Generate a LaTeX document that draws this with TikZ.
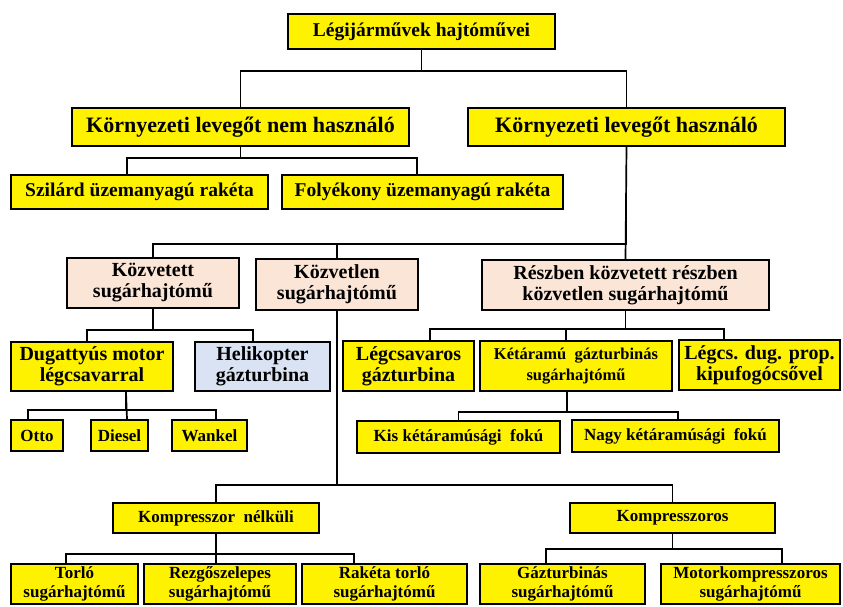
\documentclass[tikz,border=0pt]{standalone}
\usepackage{fontspec}
\setmainfont{Liberation Serif}
\usepackage{xcolor}
\usepackage{tikz}
\usetikzlibrary{shapes}
\definecolor{peach}{HTML}{FBE5D6}
\definecolor{paleblue}{HTML}{DAE3F3}
\newcommand{\fsz}[2]{\fontsize{#1}{#2}\selectfont\bfseries}
\tikzstyle{block} = [rectangle, draw, line width=2pt, fill=yellow, text centered, align=center, inner sep=0pt]
\tikzstyle{peachblock} = [block, fill=peach]
\tikzstyle{blueblock} = [block, fill=paleblue]
\tikzstyle{link} = [draw, line width=1.7pt]

\begin{document}
\begin{tikzpicture}[x=1pt, y=1pt]
        \useasboundingbox (0,0) rectangle (843,-606);
        % first levels
        \node [block, minimum width=267pt, minimum height=35pt, font=\fsz{19.5}{21}] at (421.5,-31.5) (root) {Légijárművek hajtóművei};
        \node [block, minimum width=337pt, minimum height=38pt, font=\fsz{22}{23}] at (240.5,-127) (nem) {Környezeti levegőt nem használó};
        \node [block, minimum width=317pt, minimum height=38pt, font=\fsz{22}{23}] at (626.5,-127) (haszn) {Környezeti levegőt használó};
        \node [block, minimum width=257pt, minimum height=34pt, font=\fsz{19.5}{21}] at (139.5,-192) (szil) {Szilárd üzemanyagú rakéta};
        \node [block, minimum width=281pt, minimum height=34pt, font=\fsz{19.5}{21}] at (422.5,-192) (foly) {Folyékony üzemanyagú rakéta};
        % jet engine kinds
        \node [peachblock, minimum width=172pt, minimum height=50pt, font=\fsz{20}{21}] at (153,-283) (kozvetett) {Közvetett\\sugárhajtómű};
        \node [peachblock, minimum width=162pt, minimum height=51pt, font=\fsz{20}{21}] at (337,-284.5) (kozvetlen) {Közvetlen\\sugárhajtómű};
        \node [peachblock, minimum width=287pt, minimum height=50pt, font=\fsz{20}{21}] at (625.5,-285) (reszben) {Részben közvetett részben\\közvetlen sugárhajtómű};
        % third row
        \node [block, minimum width=162pt, minimum height=49pt, font=\fsz{20}{21}] at (92,-366.5) (dug) {Dugattyús motor\\légcsavarral};
        \node [blueblock, minimum width=135pt, minimum height=49pt, font=\fsz{20}{21}] at (262.5,-366.5) (heli) {Helikopter\\gázturbina};
        \node [block, minimum width=131pt, minimum height=50pt, font=\fsz{20}{21}] at (408.5,-366) (legcs) {Légcsavaros\\gázturbina};
        \node [block, minimum width=192pt, minimum height=50pt, font=\fsz{16.5}{21}] at (576,-366) (ketar) {Kétáramú\ \ gázturbinás\\sugárhajtómű};
        \node [block, minimum width=161pt, minimum height=50pt, font=\fsz{20}{21}] at (759.5,-365) (legdug) {Légcs. dug. prop.\\kipufogócsővel};
        % piston engines, bypass ratio
        \node [block, minimum width=52pt, minimum height=31pt, font=\fsz{17}{19}] at (37,-435.5) (otto) {Otto};
        \node [block, minimum width=57pt, minimum height=31pt, font=\fsz{17}{19}] at (119.5,-435.5) (diesel) {Diesel};
        \node [block, minimum width=75pt, minimum height=31pt, font=\fsz{17}{19}] at (209.5,-435.5) (wankel) {Wankel};
        \node [block, minimum width=203pt, minimum height=32pt, font=\fsz{17}{19}] at (458.5,-437) (kis) {Kis kétáramúsági\ \ fokú};
        \node [block, minimum width=207pt, minimum height=32pt, font=\fsz{17}{19}] at (675.5,-436) (nagy) {Nagy kétáramúsági\ \ fokú};
        % compressor
        \node [block, minimum width=206pt, minimum height=30pt, font=\fsz{17}{19}] at (216,-518) (kompnelk) {Kompresszor\ \ nélküli};
        \node [block, minimum width=205pt, minimum height=30pt, font=\fsz{17}{19}] at (672.5,-518) (kompos) {Kompresszoros};
        % bottom row
        \node [block, minimum width=127pt, minimum height=40pt, font=\fsz{17}{19}] at (74.5,-584) (torlo) {Torló\\sugárhajtómű};
        \node [block, minimum width=152pt, minimum height=40pt, font=\fsz{17}{19}] at (220,-584) (rezgo) {Rezgőszelepes\\sugárhajtómű};
        \node [block, minimum width=165pt, minimum height=40pt, font=\fsz{17}{19}] at (384.5,-584) (raketa) {Rakéta torló\\sugárhajtómű};
        \node [block, minimum width=165pt, minimum height=40pt, font=\fsz{17}{19}] at (562.5,-584) (gazt) {Gázturbinás\\sugárhajtómű};
        \node [block, minimum width=179pt, minimum height=40pt, font=\fsz{17}{19}] at (750.5,-584) (motor) {Motorkompresszoros\\sugárhajtómű};

        \path [link] (root.south) -- ++(0,-21) -| (nem.north);
        \path [link] (root.south) -- ++(0,-21) -| (haszn.north);
        \path [link] (nem.south) -- ++(0,-11) -| ([xshift=-12.5pt]szil.north);
        \path [link] (nem.south) -- ++(0,-11) -| ([xshift=-5.5pt]foly.north);
        \path [link] (haszn.south) -- (reszben.north);
        \path [link] (haszn.south) -- ++(0,-97) -| (kozvetett.north);
        \path [link] (haszn.south) -- ++(0,-97) -| (kozvetlen.north);
        \path [link] (kozvetett.south) -- ++(0,-21) -| ([xshift=-5pt]dug.north);
        \path [link] (kozvetett.south) -- ++(0,-21) -| ([xshift=-9.5pt]heli.north);
        \path [link] ([xshift=34pt]dug.south) -- ++(0,-18) -| ([xshift=-9pt]otto.north);
        \path [link] ([xshift=34pt]dug.south) -- ([xshift=7.5pt]diesel.north);
        \path [link] ([xshift=34pt]dug.south) -- ++(0,-18) -| ([xshift=6.5pt]wankel.north);
        \path [link] (kozvetlen.south) -- ++(0,-174) -| (kompnelk.north);
        \path [link] (kozvetlen.south) -- ++(0,-174) -| (kompos.north);
        \path [link] (reszben.south) -- ++(0,-18) -| ([xshift=21.5pt]legcs.north);
        \path [link] (reszben.south) -- ++(0,-18) -| ([xshift=-10pt]ketar.north);
        \path [link] (reszben.south) -- ++(0,-18) -| ([xshift=-35.5pt]legdug.north);
        \path [link] ([xshift=-9pt]ketar.south) -- ++(0,-20) -| (kis.north);
        \path [link] ([xshift=-9pt]ketar.south) -- ++(0,-20) -| ([xshift=2.5pt]nagy.north);
        \path [link] (kompnelk.south) -- ++(0,-20) -| ([xshift=-8.5pt]torlo.north);
        \path [link] (kompnelk.south) -- ++(0,-20) -| ([xshift=-4pt]rezgo.north);
        \path [link] (kompnelk.south) -- ++(0,-20) -| ([xshift=-30.5pt]raketa.north);
        \path [link] (kompos.south) -- ++(0,-15) -| ([xshift=-16.5pt]gazt.north);
        \path [link] (kompos.south) -- ++(0,-15) -| ([xshift=31.5pt]motor.north);
\end{tikzpicture}
\end{document}
